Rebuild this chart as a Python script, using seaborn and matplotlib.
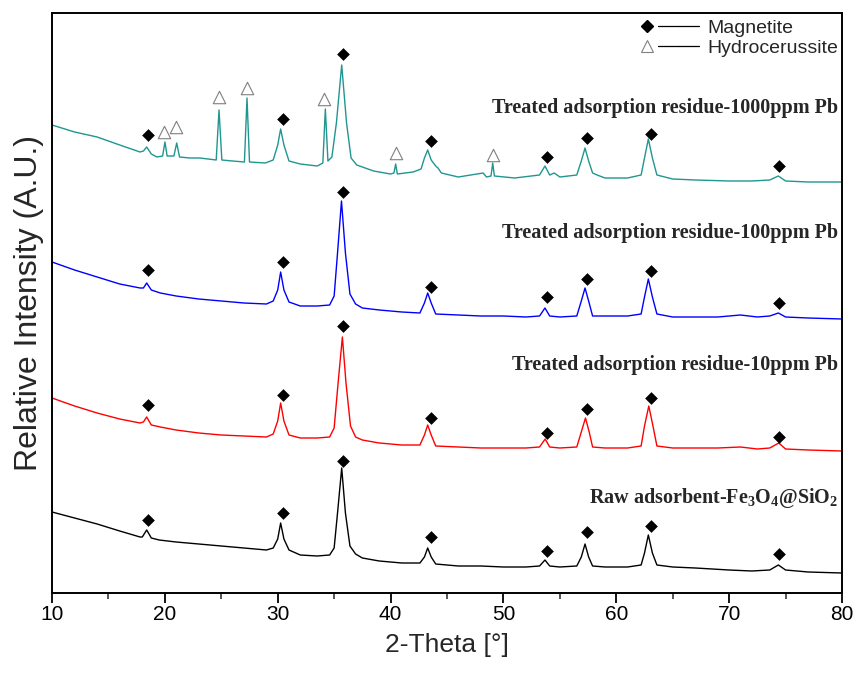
import numpy as np
import pandas as pd
import matplotlib
matplotlib.use("Agg")
import matplotlib.pyplot as plt
import seaborn as sns
from matplotlib.lines import Line2D
from matplotlib.legend_handler import HandlerTuple

# ---------------- data (2-Theta in degrees, intensity in a.u. with offsets) ----------------
raw_x = [10, 12, 14, 16, 17.8, 18.0, 18.39, 18.8, 19.5, 21, 23, 25, 27, 29, 29.6,
         30.0, 30.26, 30.55, 31.0, 32, 33.5, 34.6, 35.0, 35.3, 35.67, 36.0, 36.4, 36.9, 37.5,
         39, 41, 42.6, 43.0, 43.29, 43.6, 44.0, 46, 48, 50, 52, 53.2, 53.68, 54.1,
         55, 56.5, 56.9, 57.23, 57.55, 57.9, 59, 61, 62.2, 62.5, 62.84, 63.2, 63.6,
         65, 67, 70, 72, 73.6, 74.36, 75.0, 77, 80]
raw_y = [81, 75, 69, 62, 56, 56, 63, 55, 53, 51, 49, 47, 45, 43, 45,
         54, 70, 54, 43, 38, 37, 38, 45, 80, 125, 80, 47, 39, 35,
         32, 30, 30, 36, 45, 36, 29, 27, 27, 26, 26, 27, 33, 27,
         26, 27, 36, 49, 36, 27, 26, 26, 28, 40, 58, 40, 28,
         26, 25, 23, 22, 23, 28, 23, 21, 20]

p10_x = [10, 12, 14, 16, 17.8, 18.1, 18.39, 18.8, 19.6, 21, 23, 25, 27, 29, 29.6,
         30.0, 30.26, 30.55, 31.0, 32, 33.5, 34.6, 35.0, 35.35, 35.73, 36.05, 36.45, 36.9, 37.5,
         39, 41, 42.6, 43.0, 43.29, 43.6, 44.0, 46, 48, 50, 52, 53.2, 53.7, 54.1,
         55, 56.5, 56.9, 57.27, 57.6, 57.9, 59, 61, 62.2, 62.5, 62.88, 63.25, 63.6,
         65, 67, 69, 71, 72.5, 73.6, 74.4, 75.0, 77, 80]
p10_y = [195, 187, 180, 174, 170, 171, 176, 168, 166, 163, 160, 158, 157, 156, 159,
         172, 190, 172, 158, 155, 155, 156, 165, 210, 256, 210, 167, 156, 153,
         150, 148, 148, 158, 168, 158, 147, 146, 145, 145, 145, 146, 154, 146,
         145, 146, 161, 175, 161, 146, 145, 145, 147, 167, 187, 167, 147,
         145, 145, 145, 146, 144, 145, 150, 144, 143, 142]

p100_x = [10, 12, 14, 16, 17.8, 18.1, 18.39, 18.8, 19.6, 21, 23, 25, 27, 29, 29.6,
          30.0, 30.26, 30.55, 31.0, 32, 33.5, 34.6, 35.0, 35.3, 35.65, 36.0, 36.4, 36.9, 37.5,
          39, 41, 42.6, 43.0, 43.29, 43.6, 44.0, 46, 48, 50, 52, 53.2, 53.68, 54.1,
          55, 56.5, 56.9, 57.23, 57.55, 57.9, 59, 61, 62.2, 62.5, 62.84, 63.2, 63.6,
          65, 67, 69, 71, 72.5, 73.6, 74.36, 75.0, 77, 80]
p100_y = [331, 323, 316, 309, 305, 305, 310, 303, 300, 297, 294, 292, 290, 289, 292,
          303, 321, 303, 291, 287, 287, 288, 297, 340, 392, 340, 299, 289, 285,
          283, 281, 280, 290, 300, 290, 279, 278, 277, 277, 276, 277, 285, 277,
          276, 277, 292, 305, 292, 277, 277, 277, 279, 296, 314, 296, 279,
          276, 276, 276, 278, 276, 277, 280, 276, 275, 274]

p1000_x = [10, 12, 14, 16, 17.8, 18.1, 18.39, 18.8, 19.3, 19.8, 20.01, 20.2, 20.8, 21.05, 21.3,
           22.2, 23.1, 24.55, 24.8, 25.05, 26, 27.05, 27.28, 27.5, 28.9, 29.6,
           30.0, 30.26, 30.55, 31.0, 32, 33.5, 34.0, 34.22, 34.45, 34.8, 35.2, 35.67, 36.1, 36.5,
           37.0, 38.5, 40.0, 40.3, 40.45, 40.6, 42.0, 42.7, 43.0, 43.29, 43.6, 44.0, 44.2, 44.5,
           46, 48.2, 48.5, 48.9, 49.05, 49.2, 51, 53.2, 53.68, 54.1, 54.5, 55,
           56.5, 56.9, 57.23, 57.55, 57.9, 58.3, 59, 61, 62.2, 62.5, 62.84, 63.2, 63.6,
           65, 67, 70, 72, 73.6, 74.36, 75.0, 77, 80]
p1000_y = [468, 461, 456, 448, 441, 442, 446, 439, 436, 437, 451, 437, 437, 450, 436,
           435, 435, 433, 483, 433, 432, 431, 495, 431, 430, 433,
           448, 464, 448, 432, 429, 427, 430, 484, 432, 436, 470, 528, 470, 435,
           428, 422, 419, 420, 429, 419, 421, 424, 435, 443, 433, 427, 425, 420,
           416, 420, 416, 417, 430, 417, 415, 418, 427, 418, 420, 416,
           418, 432, 445, 432, 420, 418, 415, 415, 418, 435, 454, 435, 418,
           414, 413, 412, 412, 413, 417, 412, 411, 411]

series_names = ["Raw", "10ppm", "100ppm", "1000ppm"]
series_colors = ["#000000", "#ff0000", "#0000ff", "#1f9690"]

# Magnetite markers (shared 2-Theta positions) and heights per pattern
mag_x = [18.5, 30.5, 35.8, 43.6, 53.9, 57.4, 63.1, 74.4]
mag_raw_y = [73, 80, 132, 56, 42, 61, 67, 39]
mag_10_y = [188, 198, 267, 175, 160, 184, 195, 156]
mag_100_y = [323, 331, 401, 306, 296, 314, 322, 290]
mag_1000_y = [458, 474, 539, 452, 436, 455, 459, 427]

# Hydrocerussite markers (1000 ppm pattern only)
hyd_x = [19.92, 21.0, 24.8, 27.3, 34.1, 40.5, 49.1]
hyd_y = [461, 466, 496, 505, 494, 440, 438]

label_texts = ["Raw adsorbent-Fe$_3$O$_4$@SiO$_2$",
               "Treated adsorption residue-10ppm Pb",
               "Treated adsorption residue-100ppm Pb",
               "Treated adsorption residue-1000ppm Pb"]
label_y = [95, 228, 360, 485]

x_ticks = [10, 20, 30, 40, 50, 60, 70, 80]

# ---------------- styling ----------------
sns.set_style("ticks")
plt.rcParams["font.family"] = ["Liberation Sans", "DejaVu Sans"]
plt.rcParams["mathtext.fontset"] = "custom"
plt.rcParams["mathtext.rm"] = "Liberation Serif:bold"
plt.rcParams["mathtext.bf"] = "Liberation Serif:bold"
plt.rcParams["mathtext.it"] = "Liberation Serif:bold"
plt.rcParams["mathtext.default"] = "bf"

fig = plt.figure(figsize=(8.58, 6.73), dpi=100)
ax = fig.add_axes([52 / 858, 1 - 593 / 673, 790 / 858, 580 / 673])

frames = []
for name, xs, ys in zip(series_names,
                        [raw_x, p10_x, p100_x, p1000_x],
                        [raw_y, p10_y, p100_y, p1000_y]):
    frames.append(pd.DataFrame({"theta": xs, "intensity": ys, "sample": name}))
df = pd.concat(frames, ignore_index=True)

sns.lineplot(data=df, x="theta", y="intensity", hue="sample", hue_order=series_names,
             palette=series_colors, sort=False, estimator=None, linewidth=1.0,
             legend=False, ax=ax)

mag_df = pd.DataFrame({"theta": mag_x * 4,
                       "h": mag_raw_y + mag_10_y + mag_100_y + mag_1000_y})
sns.scatterplot(data=mag_df, x="theta", y="h", marker="D", s=42, color="black",
                edgecolor="black", linewidth=0, ax=ax, legend=False, zorder=5)
hyd_df = pd.DataFrame({"theta": hyd_x, "h": hyd_y})
sns.scatterplot(data=hyd_df, x="theta", y="h", marker="^", s=80, facecolor="white",
                edgecolor="#808080", linewidth=0.8, ax=ax, legend=False, zorder=5)

for txt, yy in zip(label_texts, label_y):
    ax.text(79.65, yy, txt, ha="right", va="center", fontsize=14.5,
            fontweight="bold", family=["Liberation Serif", "DejaVu Serif"])

ax.set_xlim(10, 80)
ax.set_ylim(0, 580)
ax.set_xticks(x_ticks)
ax.set_xticks(np.arange(15, 80, 10), minor=True)
ax.set_yticks([])
ax.tick_params(axis="x", which="major", direction="out", length=7, width=1.3,
               labelsize=15, pad=2, colors="black")
ax.tick_params(axis="x", which="minor", direction="out", length=4, width=1.1)
for sp in ax.spines.values():
    sp.set_linewidth(1.4)
    sp.set_color("black")
ax.set_xlabel("2-Theta [°]", fontsize=19, labelpad=6)
ax.set_ylabel("Relative Intensity (A.U.)", fontsize=23, labelpad=6)

h_mag = (Line2D([], [], marker="D", color="black", linestyle="none", markersize=6),
         Line2D([], [], color="black", linewidth=0.9),
         Line2D([], [], color="black", linewidth=0.9))
h_hyd = (Line2D([], [], marker="^", markerfacecolor="white", markeredgecolor="#808080",
                markeredgewidth=0.8, linestyle="none", markersize=8.5),
         Line2D([], [], color="black", linewidth=0.9),
         Line2D([], [], color="black", linewidth=0.9))
ax.legend([h_mag, h_hyd], ["Magnetite", "Hydrocerussite"],
          handler_map={tuple: HandlerTuple(ndivide=None, pad=0)},
          loc="upper right", bbox_to_anchor=(838 / 858, 1 - 19 / 673),
          bbox_transform=fig.transFigure, frameon=False, fontsize=14,
          handlelength=3.2, handletextpad=0.4, labelspacing=0.15,
          borderpad=0, borderaxespad=0)

fig.savefig("out.png", dpi=100)
